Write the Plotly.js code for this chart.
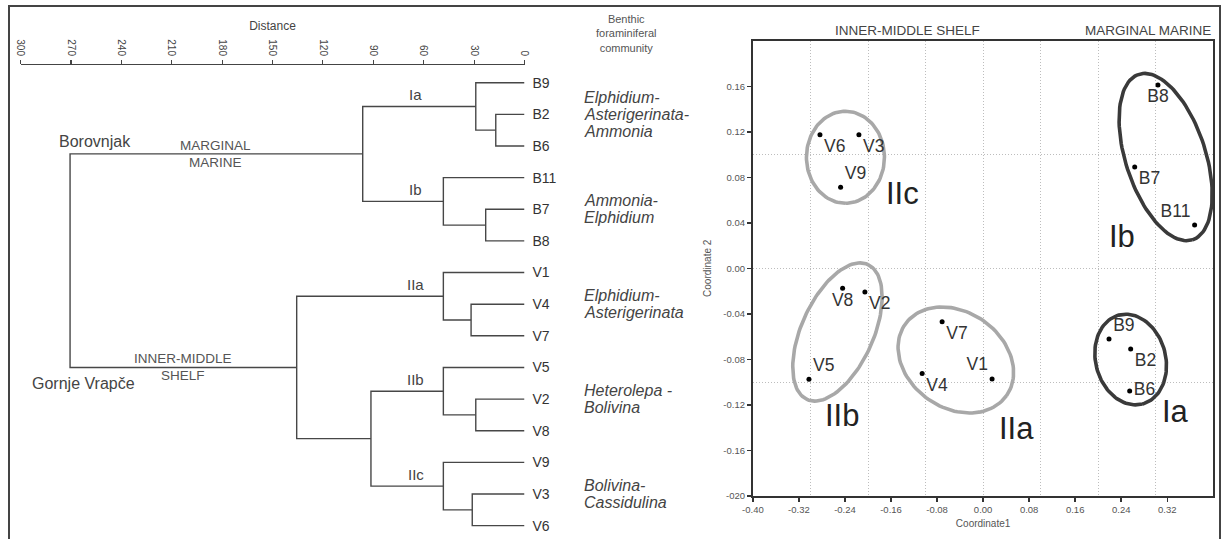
<!DOCTYPE html>
<html><head><meta charset="utf-8">
<script src="https://cdn.plot.ly/plotly-3.0.1.min.js"></script>
<style>html,body{margin:0;padding:0;background:#fff}#chart{width:1222px;height:539px}</style>
</head><body><div id="chart"></div>
<script>
// ---------------- Dendrogram data ----------------
const leaves = ['B9','B2','B6','B11','B7','B8','V1','V4','V7','V5','V2','V8','V9','V3','V6'];
// merge k creates cluster 'c'+k
const mergeA = ['B2','B9','B7','B11','c1','V4','V1','V2','V5','V3','V9','c8','c6','c4'];
const mergeB = ['B6','c0','B8','c2','c3','V7','c5','V8','c7','V6','c9','c10','c11','c12'];
const mergeHeight = [17.1, 29.0, 23.1, 48.3, 96.3, 31.8, 48.3, 29.0, 48.3, 31.1, 48.3, 91.4, 135.6, 270.5];
const distanceTicks = [0,30,60,90,120,150,180,210,240,270,300];
const clusterNames = ['Ia','Ib','IIa','IIb','IIc'];
const clusterNodes = ['c1','c3','c6','c8','c10'];
const communities = [
  ['Elphidium-','Asterigerinata-','Ammonia'],
  ['Ammonia-','Elphidium'],
  ['Elphidium-','Asterigerinata'],
  ['Heterolepa -','Bolivina'],
  ['Bolivina-','Cassidulina']
];

// ---------------- Ordination (NMDS) data ----------------
const sampleNames = ['V6','V3','V9','V8','V2','V5','V7','V4','V1','B9','B2','B6','B8','B7','B11'];
const coord1 = [-0.2835,-0.2158,-0.2476,-0.2441,-0.2054,-0.3026,-0.0712,-0.1059,0.0156,0.2188,0.2564,0.2547,0.3038,0.2634,0.3675];
const coord2 = [0.1175,0.1175,0.0712,-0.0176,-0.0208,-0.0976,-0.0469,-0.0925,-0.0973,-0.0622,-0.0710,-0.1079,0.1611,0.0891,0.0380];
const labelPos = ['bottom right','bottom right','top right','bottom center','bottom right','top right','bottom right','bottom right','top left','top right','bottom right','middle right','bottom center','bottom right','top left'];
const xTickVals = [-0.40,-0.32,-0.24,-0.16,-0.08,0.00,0.08,0.16,0.24,0.32];
const xTickText = ['-0.40','-0.32','-0.24','-0.16','-0.08','0.00','0.08','0.16','0.24','0.32'];
const yTickVals = [-0.20,-0.16,-0.12,-0.08,-0.04,0.00,0.04,0.08,0.12,0.16];
const yTickText = ['-020','-0.16','-0.12','-0.08','-0.04','0.00','0.04','0.08','0.12','0.16'];
const xGridVals = [-0.3,-0.2,-0.1,0,0.1,0.2,0.3];
const yGridVals = [-0.1,0,0.1];

// group outlines (centre in data units, semi-axes in px, angle in screen degrees)
const groupEllipses = [
  {name:'IIc', cx:-0.2392, cy:0.0976, a:46, b:39, ang:90,    color:'#a8a8a8'},
  {name:'IIb', cx:-0.2531, cy:-0.0560, a:74, b:36, ang:-65.8, color:'#a8a8a8'},
  {name:'IIa', cx:-0.0474, cy:-0.0806, a:62, b:48, ang:35,    color:'#a8a8a8'},
  {name:'Ib',  cx:0.3172,  cy:0.0978, a:87, b:40, ang:72,    color:'#3a3a3a'},
  {name:'Ia',  cx:0.2564,  cy:-0.0802, a:46, b:35, ang:75,    color:'#3a3a3a'}
];
const groupLabels = [
  {t:'IIc', x:-0.1403, y:0.0662},
  {t:'Ib',  x:0.2417,  y:0.0284},
  {t:'IIb', x:-0.2453, y:-0.1295},
  {t:'IIa', x:0.0578,  y:-0.1408},
  {t:'Ia',  x:0.3335,  y:-0.1263}
];

// ---------------- Layout geometry ----------------
const W = 1222, H = 539;
const FONT = 'Liberation Sans, Arial, Helvetica, sans-serif';
const dendX0 = 20.5, dendX1 = 524.5, dendTop = 65;
const leafFirst = 82.7, leafStep = 31.64;
const scX0 = 752.9, scX1 = 1213.3, scTop = 40.8, scBot = 495.8;
const xRange2 = [-0.4, 0.4], yRange2 = [-0.2, 0.2];

// ---------------- Build dendrogram ----------------
const nodeY = {}, nodeH = {}, nodeLeaves = {};
leaves.forEach((l,i)=>{ nodeY[l]=i; nodeH[l]=0; nodeLeaves[l]=[i]; });
const dx = [], dy = [];
mergeA.forEach((a,k)=>{
  const b = mergeB[k], h = mergeHeight[k], id = 'c'+k;
  dx.push(nodeH[a], h, h, nodeH[b], null);
  dy.push(nodeY[a], nodeY[a], nodeY[b], nodeY[b], null);
  nodeY[id] = (nodeY[a]+nodeY[b])/2;
  nodeH[id] = h;
  nodeLeaves[id] = nodeLeaves[a].concat(nodeLeaves[b]);
});

const traces = [];
traces.push({type:'scatter', mode:'lines', x:dx, y:dy, xaxis:'x', yaxis:'y',
  line:{color:'#474747', width:1.4}, hoverinfo:'skip', cliponaxis:false});

// grid helper trace
traces.push({type:'scatter', mode:'markers', x:[0], y:[0], xaxis:'x3', yaxis:'y3',
  marker:{opacity:0}, hoverinfo:'skip'});

// ---------------- Ellipses ----------------
const pxX = (scX1-scX0)/(xRange2[1]-xRange2[0]);
const pxY = (scBot-scTop)/(yRange2[1]-yRange2[0]);
groupEllipses.forEach(e=>{
  const ex=[], ey=[];
  const p = e.ang*Math.PI/180, c=Math.cos(p), s=Math.sin(p);
  for(let i=0;i<=120;i++){
    const t = 2*Math.PI*i/120;
    const u = e.a*Math.cos(t), v = e.b*Math.sin(t);
    const sx = u*c - v*s, sy = u*s + v*c; // screen px offsets (y down)
    ex.push(e.cx + sx/pxX); ey.push(e.cy - sy/pxY);
  }
  traces.push({type:'scatter', mode:'lines', x:ex, y:ey, xaxis:'x2', yaxis:'y2',
    line:{color:e.color, width:3.6}, hoverinfo:'skip', cliponaxis:false});
});

// points
traces.push({type:'scatter', mode:'markers+text', x:coord1, y:coord2, text:sampleNames,
  textposition:labelPos, xaxis:'x2', yaxis:'y2',
  marker:{color:'#000', size:5}, textfont:{family:FONT, size:17.5, color:'#333'},
  cliponaxis:false, hoverinfo:'text'});

// ---------------- Annotations ----------------
const ann = [];
clusterNames.forEach((n,k)=>{
  ann.push({xref:'x', yref:'y', x:64.6, y:nodeY[clusterNodes[k]], text:n, showarrow:false,
    xanchor:'center', yanchor:'bottom', yshift:1, font:{family:FONT, size:15, color:'#444'}});
});
communities.forEach((lines,k)=>{
  const lv = nodeLeaves[clusterNodes[k]];
  const yc = lv.reduce((s,v)=>s+v,0)/lv.length;
  lines.forEach((ln,j)=>{
    ann.push({xref:'paper', yref:'y', x:581.7/W, y:yc, text:ln, showarrow:false,
      xanchor:'left', yanchor:'middle', yshift:-(j-(lines.length-1)/2)*17,
      font:{family:FONT, size:16, color:'#444', style:'italic'}});
  });
});
const envLab = (txt, x, node, above, size) => ann.push({xref:'x', yref:'y', x:x, y:nodeY[node], text:txt,
  showarrow:false, xanchor:'center', yanchor: above?'bottom':'top', yshift: above?-1:1,
  font:{family:FONT, size:size, color:'#555'}});
envLab('MARGINAL', 183.8, 'c4', true, 13.5);
envLab('MARINE', 183.8, 'c4', false, 13.5);
envLab('INNER-MIDDLE', 203.3, 'c12', true, 13.5);
envLab('SHELF', 203.3, 'c12', false, 13.5);
ann.push({xref:'paper', yref:'y', x:56.7/W, y:nodeY['c4'], text:'Borovnjak', showarrow:false,
  xanchor:'left', yanchor:'bottom', yshift:2, font:{family:FONT, size:16, color:'#444'}});
ann.push({xref:'paper', yref:'y', x:30/W, y:nodeY['c12'], text:'Gornje Vrapče', showarrow:false,
  xanchor:'left', yanchor:'top', yshift:-6, font:{family:FONT, size:16, color:'#444'}});
ann.push({xref:'paper', yref:'paper', x:626/W, y:1-33.5/H, text:'Benthic<br>foraminiferal<br>community',
  showarrow:false, xanchor:'center', yanchor:'middle', font:{family:FONT, size:11, color:'#555'}});
ann.push({xref:'paper', yref:'paper', x:907/W, y:1-30.5/H, text:'INNER-MIDDLE SHELF', showarrow:false,
  xanchor:'center', yanchor:'middle', font:{family:FONT, size:13.5, color:'#444'}});
ann.push({xref:'paper', yref:'paper', x:1212.6/W, y:1-30.5/H, text:'MARGINAL MARINE', showarrow:false,
  xanchor:'right', yanchor:'middle', font:{family:FONT, size:13.5, color:'#444'}});
groupLabels.forEach(g=>{
  ann.push({xref:'x2', yref:'y2', x:g.x, y:g.y, text:g.t, showarrow:false, xanchor:'center', yanchor:'middle',
    font:{family:FONT, size:31, color:'#222'}});
});

// ---------------- Layout ----------------
const layout = {
  width:W, height:H, margin:{l:0,r:0,t:0,b:0}, showlegend:false,
  paper_bgcolor:'#fff', plot_bgcolor:'rgba(0,0,0,0)', font:{family:FONT, color:'#444'},
  xaxis:{domain:[dendX0/W, dendX1/W], range:[300,0], side:'top', anchor:'y',
    tickmode:'array', tickvals:distanceTicks, ticks:'outside', ticklen:4, tickwidth:1.2, tickcolor:'#444',
    tickangle:90, tickfont:{size:10, color:'#444'}, showline:true, linecolor:'#444', linewidth:1.5,
    showgrid:false, zeroline:false, fixedrange:true,
    title:{text:'Distance', font:{size:12, color:'#444'}, standoff:6}},
  yaxis:{domain:[0, 1-dendTop/H], range:[(H-leafFirst)/leafStep, (dendTop-leafFirst)/leafStep], anchor:'x',
    side:'right', tickmode:'array', tickvals:leaves.map((_,i)=>i), ticktext:leaves, ticks:'',
    showline:false, showgrid:false, zeroline:false, ticklabelstandoff:7,
    tickfont:{size:14, color:'#333'}, fixedrange:true},
  xaxis2:{domain:[scX0/W, scX1/W], range:xRange2, anchor:'y2', tickmode:'array', tickvals:xTickVals, ticktext:xTickText,
    ticks:'outside', ticklen:4, tickwidth:1.5, tickcolor:'#333', showline:true, mirror:true, linecolor:'#333', linewidth:2,
    showgrid:false, zeroline:false, tickfont:{size:9.5, color:'#555'},
    title:{text:'Coordinate1', font:{size:10, color:'#555'}, standoff:6}},
  yaxis2:{domain:[1-scBot/H, 1-scTop/H], range:yRange2, anchor:'x2', tickmode:'array', tickvals:yTickVals, ticktext:yTickText,
    ticks:'outside', ticklen:4, tickwidth:1.5, tickcolor:'#333', showline:true, mirror:true, linecolor:'#333', linewidth:2,
    showgrid:false, zeroline:false, tickfont:{size:9.5, color:'#555'},
    title:{text:'Coordinate 2', font:{size:10, color:'#555'}, standoff:10}},
  xaxis3:{overlaying:'x2', anchor:'y2', range:xRange2, tickmode:'array', tickvals:xGridVals, showticklabels:false,
    ticks:'', showline:false, zeroline:false, showgrid:true, gridcolor:'#bdbdbd', gridwidth:1, griddash:'1px,2px'},
  yaxis3:{overlaying:'y2', anchor:'x2', range:yRange2, tickmode:'array', tickvals:yGridVals, showticklabels:false,
    ticks:'', showline:false, zeroline:false, showgrid:true, gridcolor:'#bdbdbd', gridwidth:1, griddash:'1px,2px'},
  shapes:[{type:'rect', xref:'paper', yref:'paper', x0:9/W, x1:1220/W, y0:-0.02, y1:1-6/H,
    line:{color:'#444', width:2}, fillcolor:'rgba(0,0,0,0)'}],
  annotations: ann
};
Plotly.newPlot('chart', traces, layout, {staticPlot:true, displayModeBar:false});
</script></body></html>
